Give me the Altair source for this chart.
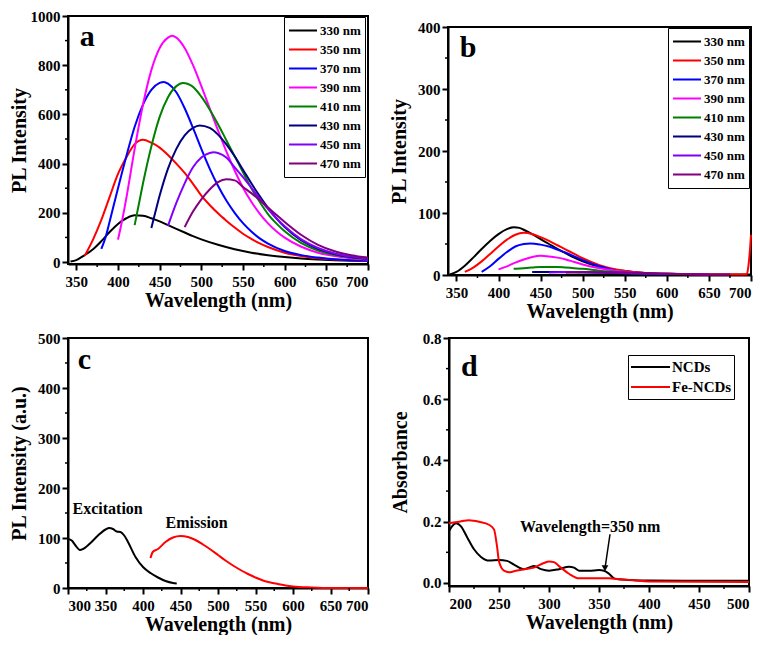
import altair as alt
import pandas as pd

FONT = "Liberation Serif"

# ---------------- panel a / b series ----------------
series_names = ["330 nm", "350 nm", "370 nm", "390 nm", "410 nm", "430 nm", "450 nm", "470 nm"]
series_colors = ["#000000", "#ff0000", "#0000ff", "#ff00ff", "#008000", "#000080", "#8000ff", "#800080"]

# panel a
a330_x = [343, 350, 360, 370, 380, 390, 400, 410, 420, 430, 440, 450, 460, 470, 480, 490, 500, 520, 540, 560, 580, 600, 620, 640, 660, 680, 700]
a330_y = [2, 8, 28, 52, 85, 122, 155, 178, 190, 188, 178, 165, 150, 135, 120, 105, 92, 70, 52, 38, 28, 20, 14, 10, 7, 5, 4]
a350_x = [360, 370, 380, 390, 400, 410, 420, 430, 440, 450, 460, 470, 480, 490, 500, 510, 520, 530, 540, 550, 560, 570, 580, 600, 620, 640, 660, 680, 700]
a350_y = [25, 91, 171, 265, 358, 425, 479, 497, 485, 465, 435, 400, 362, 318, 270, 232, 198, 168, 140, 115, 94, 76, 61, 38, 24, 15, 10, 6, 4]
a370_x = [380, 385, 390, 400, 410, 420, 430, 440, 450, 455, 460, 470, 480, 490, 500, 510, 520, 530, 540, 550, 560, 570, 580, 600, 620, 640, 660, 680, 700]
a370_y = [53, 100, 165, 300, 430, 550, 640, 700, 728, 732, 725, 690, 625, 545, 460, 380, 310, 250, 200, 158, 124, 96, 75, 45, 28, 18, 11, 7, 5]
a390_x = [400, 405, 410, 420, 430, 440, 450, 460, 465, 470, 480, 490, 500, 510, 520, 530, 540, 550, 560, 570, 580, 590, 600, 620, 640, 660, 680, 700]
a390_y = [91, 170, 260, 460, 640, 780, 870, 912, 920, 912, 870, 800, 715, 625, 535, 450, 372, 302, 245, 197, 157, 125, 99, 62, 38, 24, 15, 10]
a410_x = [420, 425, 430, 440, 450, 460, 470, 478, 490, 500, 510, 520, 530, 540, 550, 560, 570, 580, 590, 600, 620, 640, 660, 680, 700]
a410_y = [150, 235, 320, 470, 590, 670, 715, 728, 712, 672, 620, 560, 495, 430, 365, 300, 245, 195, 157, 125, 77, 47, 29, 18, 11]
a430_x = [440, 445, 450, 460, 470, 480, 490, 498, 510, 520, 530, 540, 550, 560, 570, 580, 590, 600, 620, 640, 660, 680, 700]
a430_y = [138, 205, 270, 380, 460, 515, 545, 555, 545, 518, 478, 430, 375, 320, 268, 220, 178, 142, 88, 54, 33, 20, 13]
a450_x = [460, 470, 480, 490, 500, 510, 515, 520, 530, 540, 550, 560, 570, 580, 590, 600, 620, 640, 660, 680, 700]
a450_y = [147, 240, 320, 385, 425, 443, 446, 443, 425, 385, 345, 302, 258, 215, 178, 145, 92, 57, 35, 22, 14]
a470_x = [480, 490, 500, 510, 520, 530, 540, 550, 560, 570, 580, 590, 600, 620, 640, 660, 680, 700]
a470_y = [142, 205, 255, 295, 325, 336, 332, 305, 280, 252, 222, 192, 163, 110, 70, 44, 28, 18]

# panel b
b330_x = [342, 350, 360, 370, 380, 390, 400, 410, 418, 425, 430, 440, 450, 460, 470, 480, 490, 500, 520, 540, 560, 580, 600, 650, 700]
b330_y = [1, 5, 15, 28, 42, 55, 66, 74, 77, 76, 73, 66, 58, 50, 42, 35, 28, 22, 13, 8, 5, 3, 2, 1, 1]
b350_x = [360, 370, 380, 390, 400, 410, 420, 430, 440, 450, 460, 470, 480, 490, 500, 520, 540, 560, 580, 600, 650, 695, 697, 699, 700]
b350_y = [5, 12, 22, 34, 46, 57, 65, 68, 66, 61, 55, 48, 41, 34, 27, 16, 9, 5, 3, 2, 1, 1, 15, 45, 65]
b370_x = [380, 390, 400, 410, 420, 430, 438, 450, 460, 470, 480, 490, 500, 520, 540, 565]
b370_y = [5, 14, 26, 37, 46, 50, 51, 49, 46, 41, 36, 30, 24, 14, 7, 3]
b390_x = [400, 410, 420, 430, 440, 450, 460, 470, 480, 490, 500, 520, 540, 560, 585]
b390_y = [9, 14, 20, 25, 29, 31, 30, 28, 25, 21, 17, 11, 7, 4, 2]
b410_x = [418, 430, 440, 450, 460, 470, 480, 490, 500, 520, 540, 560, 580]
b410_y = [10, 11, 12, 13, 13, 13, 12, 11, 10, 7, 5, 3, 2]
b430_x = [440, 450, 470, 500, 550, 600]
b430_y = [5, 5, 5, 4, 3, 1]
b450_x = [460, 480, 500, 550, 600, 650]
b450_y = [4, 5, 5, 3, 2, 1]
b470_x = [480, 500, 550, 600, 650, 675]
b470_y = [4, 5, 4, 2, 1, 1]

# panel c
c_names = ["Excitation", "Emission"]
c_colors = ["#000000", "#ff0000"]
exc_x = [300, 305, 310, 316, 320, 330, 340, 350, 355, 360, 365, 370, 375, 380, 390, 400, 410, 420, 430, 440, 445]
exc_y = [98, 95, 85, 76, 78, 90, 105, 117, 120, 118, 113, 112, 105, 92, 62, 42, 30, 21, 14, 10, 9]
em_x = [410, 413, 420, 430, 440, 450, 460, 470, 480, 490, 500, 510, 520, 530, 540, 550, 560, 570, 580, 590, 600, 625, 650, 700]
em_y = [60, 72, 78, 92, 101, 104, 102, 96, 87, 77, 66, 55, 45, 36, 28, 21, 15, 11, 8, 5, 3, 1, 0, 0]

# panel d
d_names = ["NCDs", "Fe-NCDs"]
d_colors = ["#000000", "#ff0000"]
ncd_x = [200, 203, 207, 212, 218, 225, 232, 240, 250, 258, 265, 275, 285, 292, 300, 310, 320, 325, 330, 340, 350, 355, 360, 365, 370, 380, 400, 450, 500]
ncd_y = [0.17, 0.185, 0.195, 0.185, 0.15, 0.11, 0.085, 0.073, 0.075, 0.072, 0.06, 0.045, 0.055, 0.045, 0.04, 0.045, 0.053, 0.05, 0.04, 0.04, 0.042, 0.04, 0.03, 0.015, 0.012, 0.01, 0.008, 0.007, 0.007]
fe_x = [200, 210, 220, 230, 240, 245, 248, 250, 255, 260, 265, 275, 285, 295, 300, 305, 310, 320, 330, 340, 360, 370, 380, 400, 500]
fe_y = [0.195, 0.2, 0.205, 0.2, 0.19, 0.175, 0.12, 0.07, 0.04, 0.035, 0.038, 0.045, 0.05, 0.065, 0.07, 0.068, 0.055, 0.03, 0.015, 0.015, 0.015, 0.012, 0.01, 0.005, 0.003]

# tick values
a_xmajor = [350, 400, 450, 500, 550, 600, 650, 700]
a_xminor = [375, 425, 475, 525, 575, 625, 675]
a_ymajor = [0, 200, 400, 600, 800, 1000]
a_yminor = [100, 300, 500, 700, 900]
b_ymajor = [0, 100, 200, 300, 400]
b_yminor = [50, 150, 250, 350]
c_xmajor = [300, 350, 400, 450, 500, 550, 600, 650, 700]
c_xminor = [325, 375, 425, 475, 525, 575, 625, 675]
c_ymajor = [0, 100, 200, 300, 400, 500]
c_yminor = [50, 150, 250, 350, 450]
d_xmajor = [200, 250, 300, 350, 400, 450, 500]
d_xminor = [225, 275, 325, 375, 425, 475]
d_ymajor = [0.0, 0.2, 0.4, 0.6, 0.8]
d_yminor = [0.1, 0.3, 0.5, 0.7]

# annotations (data coordinates)
letters_text = ["a", "b", "c", "d"]
letters_x = [354, 354, 313, 212]
letters_y = [880, 351, 438, 0.677]
c_note_text = ["Excitation", "Emission"]
c_note_x = [306, 430]
c_note_y = [149, 121]
d_note_text = ["Wavelength=350 nm"]
d_note_x = [271]
d_note_y = [0.168]
d_arrow_x = [361]
d_arrow_y = [0.159]
d_arrow_x2 = [356]
d_arrow_y2 = [0.048]

MAJOR_LEN, MINOR_LEN = 6, 3


def long_df(xs_list, ys_list, names):
    rows = []
    for k, (xs, ys, n) in enumerate(zip(xs_list, ys_list, names)):
        for x, y in zip(xs, ys):
            rows.append({"wl": x, "val": y, "series": n, "k": k})
    return pd.DataFrame(rows)


def main_axis(title, values, orient, fmt=None):
    kw = dict(title=title, values=values, orient=orient, ticks=True, tickSize=MAJOR_LEN,
              tickColor="black", tickWidth=2, labelOverlap=False, labelBound=False)
    if fmt:
        kw["format"] = fmt
    if orient == "left":
        kw["minExtent"] = 38
        kw["labelPadding"] = 2
    else:
        kw["labelPadding"] = 4
    return alt.Axis(**kw)


def tick_layers(xmin, ymin, h):
    # minor ticks (outward), drawn as rules; the major ticks come from the axes
    out = []
    out.append(alt.Chart(pd.DataFrame({"wl": xmin})).mark_rule(
        color="black", strokeWidth=1.5, clip=False).encode(
        x=alt.X("wl:Q", axis=None), y=alt.value(h), y2=alt.value(h + MINOR_LEN)))
    out.append(alt.Chart(pd.DataFrame({"val": ymin})).mark_rule(
        color="black", strokeWidth=1.5, clip=False).encode(
        y=alt.Y("val:Q", axis=None), x=alt.value(0), x2=alt.value(-MINOR_LEN)))
    return out


def panel(df, names, colors, xdom, ydom, xmaj, xmin, ymaj, ymin, ytitle, w, h,
          legend, letter_idx, yfmt=None, extra=None):
    xs = alt.Scale(domain=xdom, nice=False, zero=False)
    ys = alt.Scale(domain=ydom, nice=False, zero=False)
    lines = alt.Chart(df).mark_line(strokeWidth=2, interpolate="monotone").encode(
        x=alt.X("wl:Q", scale=xs, axis=main_axis("Wavelength (nm)", xmaj, "bottom")),
        y=alt.Y("val:Q", scale=ys, axis=main_axis(ytitle, ymaj, "left", fmt=yfmt)),
        color=alt.Color("series:N", sort=names,
                        scale=alt.Scale(domain=names, range=colors),
                        legend=legend),
        order="k:Q",
    )
    ldf = pd.DataFrame({"wl": [letters_x[letter_idx]], "val": [letters_y[letter_idx]],
                        "txt": [letters_text[letter_idx]]})
    letter = alt.Chart(ldf).mark_text(align="left", baseline="alphabetic", font=FONT,
                                      fontSize=30, fontWeight="bold", color="black").encode(
        x=alt.X("wl:Q", axis=None), y=alt.Y("val:Q", axis=None), text="txt:N")
    layers = [lines, letter] + tick_layers(xmin, ymin, h) + (extra or [])
    return alt.layer(*layers).resolve_axis(x="independent", y="independent").properties(
        width=w, height=h)


def spec_legend(x, y):
    return alt.Legend(title=None, orient="none", legendX=x, legendY=y, symbolType="stroke",
                      symbolSize=784, symbolStrokeWidth=2, clipHeight=19,
                      labelFont=FONT, labelFontSize=13, labelFontWeight="bold", labelColor="black",
                      labelOffset=2, strokeColor="black", padding=4, rowPadding=0)


def note_layer(xs, ys, texts, size):
    nd = pd.DataFrame({"wl": xs, "val": ys, "txt": texts})
    return alt.Chart(nd).mark_text(align="left", baseline="alphabetic", font=FONT,
                                   fontSize=size, fontWeight="bold", color="black").encode(
        x=alt.X("wl:Q", axis=None), y=alt.Y("val:Q", axis=None), text="txt:N")


WA, HA = 300, 248
WB, HB = 303, 248
WC, HC = 300, 250
WD, HD = 300, 248

df_a = long_df([a330_x, a350_x, a370_x, a390_x, a410_x, a430_x, a450_x, a470_x],
               [a330_y, a350_y, a370_y, a390_y, a410_y, a430_y, a450_y, a470_y], series_names)
df_b = long_df([b330_x, b350_x, b370_x, b390_x, b410_x, b430_x, b450_x, b470_x],
               [b330_y, b350_y, b370_y, b390_y, b410_y, b430_y, b450_y, b470_y], series_names)
df_c = long_df([exc_x, em_x], [exc_y, em_y], c_names)
df_d = long_df([ncd_x, fe_x], [ncd_y, fe_y], d_names)

pa = panel(df_a, series_names, series_colors, [340, 700], [-8, 1000], a_xmajor, a_xminor,
           a_ymajor, a_yminor, "PL Intensity", WA, HA,
           spec_legend(WA - 84, 1), 0, yfmt="d")

pb = panel(df_b, series_names, series_colors, [340, 700], [0, 400], a_xmajor, a_xminor,
           b_ymajor, b_yminor, "PL Intensity", WB, HB,
           spec_legend(WB - 83, 1), 1, yfmt="d")

spacer = alt.Chart(pd.DataFrame({"v": [0]})).mark_point(size=0, opacity=0).properties(
    width=WB, height=1, view=alt.ViewBackground(strokeOpacity=0, strokeWidth=0))
pb_col = alt.vconcat(spacer, pb, spacing=2).resolve_scale(color="independent")

pc = panel(df_c, c_names, c_colors, [300, 700], [0, 500], c_xmajor, c_xminor,
           c_ymajor, c_yminor, "PL Intensity (a.u.)", WC, HC,
           None, 2, yfmt="d", extra=[note_layer(c_note_x, c_note_y, c_note_text, 16)])

da = pd.DataFrame({"wl": d_arrow_x, "val": d_arrow_y, "wl2": d_arrow_x2, "val2": d_arrow_y2})
d_arrow = alt.Chart(da).mark_rule(color="black", strokeWidth=1.5).encode(
    x=alt.X("wl:Q", axis=None), y=alt.Y("val:Q", axis=None), x2="wl2:Q", y2="val2:Q")
d_head = alt.Chart(da).mark_point(shape="triangle-down", filled=True, color="black", size=45,
                                  opacity=1).encode(
    x=alt.X("wl2:Q", axis=None), y=alt.Y("val2:Q", axis=None))
d_legend = alt.Legend(title=None, orient="none", legendX=WD - 17 - 104, legendY=17,
                      symbolType="stroke", symbolSize=1521, symbolStrokeWidth=2, clipHeight=20,
                      labelFont=FONT, labelFontSize=15, labelFontWeight="bold", labelColor="black",
                      labelOffset=1, strokeColor="black", padding=2, rowPadding=0)
pd_ = panel(df_d, d_names, d_colors, [200, 500], [-0.01, 0.8], d_xmajor, d_xminor,
            d_ymajor, d_yminor, "Absorbance", WD, HD,
            d_legend, 3, yfmt=".1f",
            extra=[note_layer(d_note_x, d_note_y, d_note_text, 16), d_arrow, d_head])

row1 = alt.hconcat(pa, pb_col, spacing=15).resolve_scale(color="independent", x="independent", y="independent")
row2 = alt.hconcat(pc, pd_, spacing=16).resolve_scale(color="independent", x="independent", y="independent")

chart = alt.vconcat(row1, row2, spacing=8).resolve_scale(
    color="independent", x="independent", y="independent"
).properties(padding=0).configure_view(
    stroke="black", strokeWidth=2
).configure_axis(
    domainColor="black", domainWidth=2,
    labelFont=FONT, labelFontSize=15, labelFontWeight="bold", labelColor="black",
    titleFont=FONT, titleFontSize=20, titleFontWeight="bold", titleColor="black",
    grid=False, titlePadding=1
)

chart.save("out.html", embed_options={"renderer": "svg", "actions": False})
